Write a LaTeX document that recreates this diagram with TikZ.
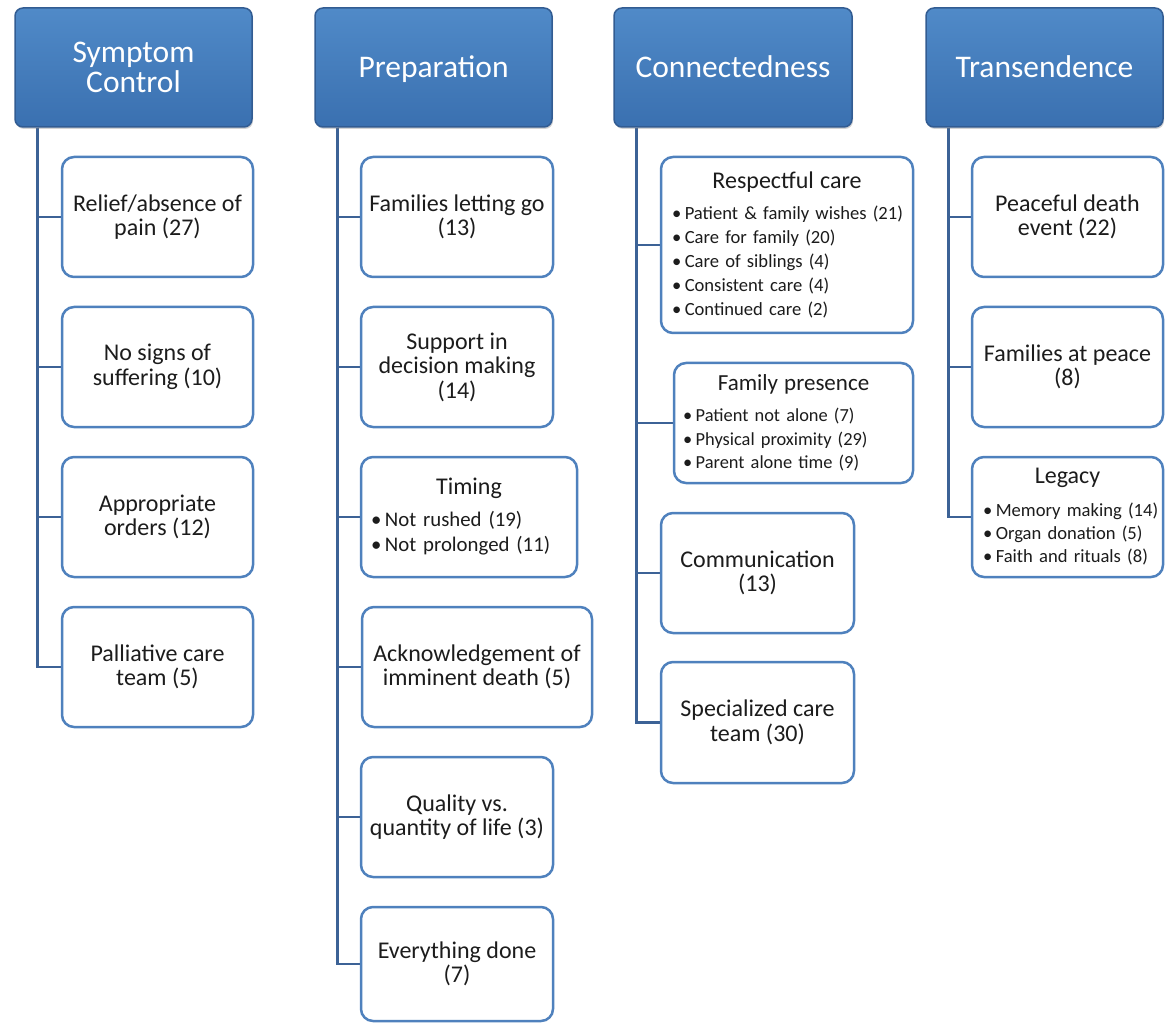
\documentclass[tikz,border=0pt]{standalone}
\usepackage{fontspec}
\setmainfont{Carlito}
\usetikzlibrary{shadows,backgrounds}

\definecolor{hdrtop}{RGB}{80,138,200}
\definecolor{hdrbot}{RGB}{58,112,176}
\definecolor{hdrline}{RGB}{50,92,146}
\definecolor{boxline}{RGB}{79,129,189}
\definecolor{linkline}{RGB}{60,98,150}
\definecolor{ink}{RGB}{28,28,28}

% one bullet line of a sub-list, kept on a single line
\newcommand\bulitem[1]{\mbox{\textbullet\hspace{3.5pt}#1}}

\begin{document}
\begin{tikzpicture}[x=1pt,y=-1pt,
  header/.style={rounded corners=8pt, draw=hdrline, line width=1.5pt,
    top color=hdrtop, bottom color=hdrbot, text=white,
    minimum width=237pt, minimum height=119pt, inner sep=0pt,
    align=center, font=\fontsize{31.5}{30}\selectfont,
    drop shadow={shadow xshift=1pt, shadow yshift=-2pt, opacity=0.35}},
  oneline/.style={text height=21pt, text depth=0pt},
  item/.style={rounded corners=12pt, draw=boxline, line width=2.5pt,
    fill=white, text=ink, inner sep=0pt, align=center,
    font=\fontsize{24}{24.5}\selectfont},
  listbox/.style={item, align=left},
  link/.style={draw=linkline, line width=2.5pt}
]
\useasboundingbox (0,0) rectangle (1165,1024);

% ---- column headers
\node[header] (hA) at (133.5,67.5) {Symptom\\Control};
\node[header, oneline] (hB) at (433.5,67.5) {Preparation};
\node[header, oneline, minimum width=238pt] (hC) at (733,67.5) {Connectedness};
\node[header, oneline] (hD) at (1044.5,67.5) {Transendence};

% ---- Symptom control
\node[item, minimum width=191pt, minimum height=120pt] (a1) at (157.5,217) {Relief/absence of\\pain (27)};
\node[item, minimum width=191pt, minimum height=120pt] (a2) at (157.5,367) {No signs of\\suffering (10)};
\node[item, minimum width=191pt, minimum height=120pt] (a3) at (157.5,517) {Appropriate\\orders (12)};
\node[item, minimum width=191pt, minimum height=120pt] (a4) at (157.5,667) {Palliative care\\team (5)};

% ---- Preparation
\node[item, minimum width=192pt, minimum height=120pt] (b1) at (457,217) {Families letting go\\(13)};
\node[item, minimum width=192pt, minimum height=120pt] (b2) at (457,367) {Support in\\decision making\\(14)};
\node[listbox, minimum width=216pt, minimum height=120pt, text width=196pt,
      font=\fontsize{20.8}{25}\selectfont] (b3) at (469,517)
  {\makebox[\hsize][c]{\fontsize{24}{24}\selectfont Timing}\\[7pt]
   \bulitem{Not rushed (19)}\\
   \bulitem{Not prolonged (11)}};
\node[item, minimum width=230pt, minimum height=120pt] (b4) at (477,667) {Acknowledgement of\\imminent death (5)};
\node[item, minimum width=192pt, minimum height=120pt] (b5) at (457,817) {Quality vs.\\quantity of life (3)};
\node[item, minimum width=192pt, minimum height=114pt] (b6) at (457,964) {Everything done\\(7)};

% ---- Connectedness
\node[listbox, minimum width=252pt, minimum height=176pt, text width=230pt,
      font=\fontsize{18.6}{24}\selectfont] (c1) at (787,245)
  {\makebox[\hsize][c]{\fontsize{24}{24}\selectfont Respectful care}\\[7pt]
   \bulitem{Patient \& family wishes (21)}\\
   \bulitem{Care for family (20)}\\
   \bulitem{Care of siblings (4)}\\
   \bulitem{Consistent care (4)}\\
   \bulitem{Continued care (2)}};
\node[listbox, minimum width=239pt, minimum height=120pt, text width=221pt,
      font=\fontsize{18.4}{23.5}\selectfont] (c2) at (793.5,423)
  {\makebox[\hsize][c]{\fontsize{23}{23}\selectfont Family presence}\\[7.5pt]
   \bulitem{Patient not alone (7)}\\
   \bulitem{Physical proximity (29)}\\
   \bulitem{Parent alone time (9)}};
\node[item, minimum width=193pt, minimum height=120pt] (c3) at (757.5,573) {Communication\\(13)};
\node[item, minimum width=193pt, minimum height=121pt] (c4) at (757.5,722.5) {Specialized care\\team (30)};

% ---- Transendence
\node[item, minimum width=191pt, minimum height=120pt] (d1) at (1067.5,217) {Peaceful death\\event (22)};
\node[item, minimum width=191pt, minimum height=120pt] (d2) at (1067.5,367) {Families at peace\\(8)};
\node[listbox, minimum width=191pt, minimum height=120pt, text width=169pt,
      font=\fontsize{18.6}{23}\selectfont] (d3) at (1067.5,517)
  {\makebox[\hsize][c]{\fontsize{24}{24}\selectfont Legacy}\\[10pt]
   \bulitem{Memory making (14)}\\
   \bulitem{Organ donation (5)}\\
   \bulitem{Faith and rituals (8)}};

% ---- elbow connectors from each header down its column
\begin{scope}[on background layer]
  \foreach \c in {a1,a2,a3,a4}
    \draw[link] (hA.south west) ++(23,0) |- (\c.west);
  \foreach \c in {b1,b2,b3,b4,b5,b6}
    \draw[link] (hB.south west) ++(23,0) |- (\c.west);
  \foreach \c in {c1,c2,c3,c4}
    \draw[link] (hC.south west) ++(23,0) |- (\c.west);
  \foreach \c in {d1,d2,d3}
    \draw[link] (hD.south west) ++(23,0) |- (\c.west);
\end{scope}
\end{tikzpicture}
\end{document}
